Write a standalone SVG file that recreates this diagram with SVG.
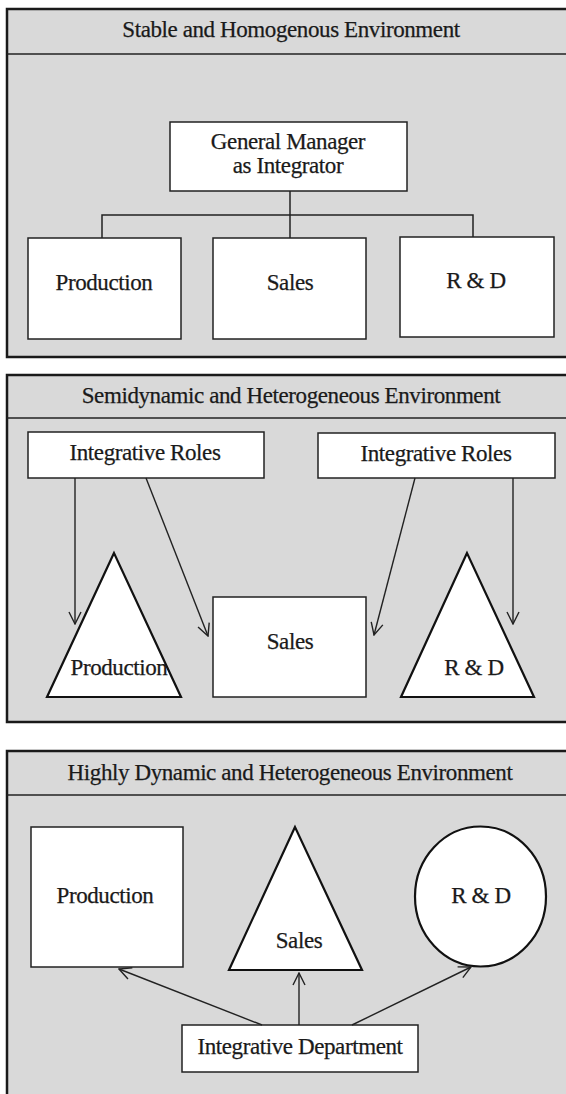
<svg xmlns="http://www.w3.org/2000/svg" width="566" height="1094" viewBox="0 0 566 1094">
  <style>
    .panel { fill: #d9d9d9; stroke: #1a1a1a; stroke-width: 2.5; }
    .hdr { stroke: #222; stroke-width: 1.5; fill: none; }
    .box { fill: #ffffff; stroke: #222; stroke-width: 1.5; }
    .shape { fill: #ffffff; stroke: #111; stroke-width: 2.2; }
    .line { stroke: #222; stroke-width: 1.5; fill: none; }
    .arrow { stroke: #222; stroke-width: 1.4; fill: none; marker-end: url(#open); }
    text { font-family: "Liberation Serif", "Times New Roman", serif; font-size: 23px; letter-spacing: -0.4px; fill: #1a1a1a; stroke: #1a1a1a; stroke-width: 0.25; text-anchor: middle; }
  </style>
  <defs>
    <marker id="open" viewBox="0 0 14 14" refX="13" refY="7" markerWidth="14" markerHeight="14" markerUnits="userSpaceOnUse" orient="auto">
      <path d="M1,1 L13,7 L1,13" fill="none" stroke="#222" stroke-width="1.4"/>
    </marker>
  </defs>
  <rect width="566" height="1094" fill="#ffffff"/>

  <!-- Panel 1: stable environment -->
  <g id="panel-stable">
    <rect class="panel" x="7" y="9" width="570" height="348"/>
    <line class="hdr" x1="7" y1="54" x2="566" y2="54"/>
    <text x="291" y="37">Stable and Homogenous Environment</text>
  </g>
  <g id="p1-manager">
    <rect class="box" x="170" y="122" width="237" height="69"/>
    <text x="288" y="149">General Manager</text>
    <text x="288" y="173">as Integrator</text>
  </g>
  <g id="p1-production">
    <rect class="box" x="28" y="238" width="153" height="101"/>
    <text x="104" y="290">Production</text>
  </g>
  <g id="p1-sales">
    <rect class="box" x="213" y="238" width="153" height="101"/>
    <text x="290" y="290">Sales</text>
  </g>
  <g id="p1-rd">
    <rect class="box" x="400" y="237" width="154" height="100"/>
    <text x="476" y="288">R &amp; D</text>
  </g>
  <g id="p1-connectors">
    <line class="line" x1="290" y1="191" x2="290" y2="238"/>
    <polyline class="line" points="102,238 102,215 473,215 473,237"/>
  </g>

  <!-- Panel 2: semidynamic environment -->
  <g id="panel-semidynamic">
    <rect class="panel" x="7" y="375" width="570" height="347"/>
    <line class="hdr" x1="7" y1="418" x2="566" y2="418"/>
    <text x="291" y="403">Semidynamic and Heterogeneous Environment</text>
  </g>
  <g id="p2-roles-left">
    <rect class="box" x="28" y="432" width="236" height="46"/>
    <text x="145" y="460">Integrative Roles</text>
  </g>
  <g id="p2-roles-right">
    <rect class="box" x="318" y="433" width="237" height="45"/>
    <text x="436" y="461">Integrative Roles</text>
  </g>
  <g id="p2-production">
    <polygon class="shape" points="114,553 47,697 181,697"/>
    <text x="119" y="675">Production</text>
  </g>
  <g id="p2-sales">
    <rect class="box" x="213" y="597" width="153" height="100"/>
    <text x="290" y="649">Sales</text>
  </g>
  <g id="p2-rd">
    <polygon class="shape" points="467,553 401,697 534,697"/>
    <text x="474" y="675">R &amp; D</text>
  </g>
  <g id="p2-connectors">
    <line class="arrow" x1="75" y1="478" x2="75" y2="624"/>
    <line class="arrow" x1="146" y1="478" x2="208" y2="636"/>
    <line class="arrow" x1="415" y1="478" x2="374" y2="635"/>
    <line class="arrow" x1="513" y1="478" x2="513" y2="624"/>
  </g>

  <!-- Panel 3: highly dynamic environment -->
  <g id="panel-dynamic">
    <rect class="panel" x="7" y="751" width="570" height="360"/>
    <line class="hdr" x1="7" y1="795" x2="566" y2="795"/>
    <text x="290" y="780">Highly Dynamic and Heterogeneous Environment</text>
  </g>
  <g id="p3-production">
    <rect class="box" x="31" y="827" width="152" height="140"/>
    <text x="105" y="903">Production</text>
  </g>
  <g id="p3-sales">
    <polygon class="shape" points="295,827 229,970 362,970"/>
    <text x="299" y="948">Sales</text>
  </g>
  <g id="p3-rd">
    <ellipse class="shape" cx="480.5" cy="896.5" rx="65.5" ry="70"/>
    <text x="481" y="903">R &amp; D</text>
  </g>
  <g id="p3-integrative">
    <rect class="box" x="182" y="1025" width="236" height="47"/>
    <text x="300" y="1054">Integrative Department</text>
  </g>
  <g id="p3-connectors">
    <line class="arrow" x1="262" y1="1025" x2="119" y2="969"/>
    <line class="arrow" x1="299" y1="1025" x2="299" y2="973"/>
    <line class="arrow" x1="352" y1="1025" x2="471" y2="967"/>
  </g>
</svg>
